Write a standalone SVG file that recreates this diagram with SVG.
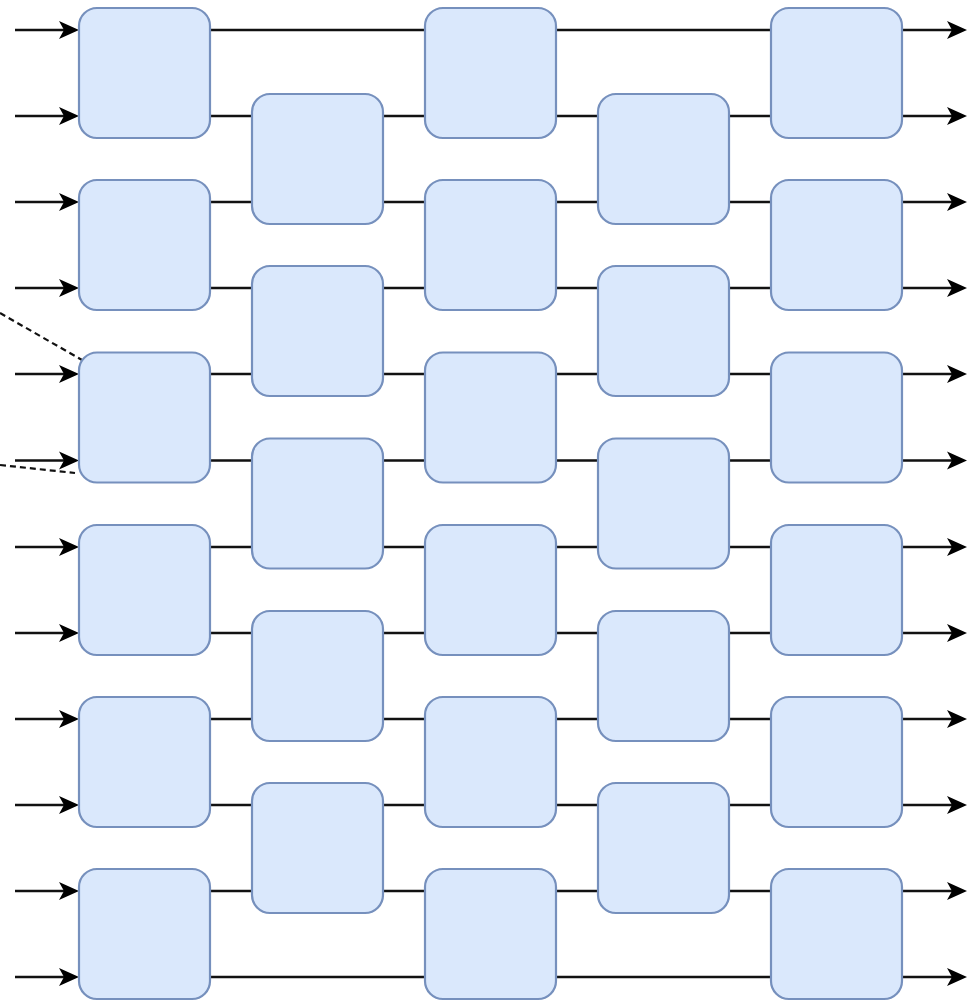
<svg xmlns="http://www.w3.org/2000/svg" width="969" height="1002" viewBox="0 0 969 1002">
<style>
.box{fill:#dae8fc;stroke:#7690bd;stroke-width:2.2}
.wire{stroke:#111;stroke-width:2.4;fill:none}
.head{fill:#000}
.dash{stroke:#111;stroke-width:2.2;fill:none;stroke-dasharray:6 4}
</style>
<defs>
<path id="ah" d="M-20,-9 L0,0 L-20,9 L-15,0 Z"/>
</defs>
<rect width="969" height="1002" fill="#fff"/>
<g id="connectors">
<path class="wire" d="M15,30H66 M15,116H66 M15,202H66 M15,288H66 M15,374H66 M15,460.5H66 M15,547H66 M15,633H66 M15,719H66 M15,805H66 M15,891H66 M15,977H66"/>
<path class="wire" d="M210,30H954 M210,116H954 M210,202H954 M210,288H954 M210,374H954 M210,460.5H954 M210,547H954 M210,633H954 M210,719H954 M210,805H954 M210,891H954 M210,977H954"/>
<g class="head">
<use href="#ah" x="79" y="30"/><use href="#ah" x="79" y="116"/><use href="#ah" x="79" y="202"/><use href="#ah" x="79" y="288"/>
<use href="#ah" x="79" y="374"/><use href="#ah" x="79" y="460.5"/><use href="#ah" x="79" y="547"/><use href="#ah" x="79" y="633"/>
<use href="#ah" x="79" y="719"/><use href="#ah" x="79" y="805"/><use href="#ah" x="79" y="891"/><use href="#ah" x="79" y="977"/>
<use href="#ah" x="967" y="30"/><use href="#ah" x="967" y="116"/><use href="#ah" x="967" y="202"/><use href="#ah" x="967" y="288"/>
<use href="#ah" x="967" y="374"/><use href="#ah" x="967" y="460.5"/><use href="#ah" x="967" y="547"/><use href="#ah" x="967" y="633"/>
<use href="#ah" x="967" y="719"/><use href="#ah" x="967" y="805"/><use href="#ah" x="967" y="891"/><use href="#ah" x="967" y="977"/>
</g>
<path class="dash" d="M0,313 L82,360"/>
<path class="dash" d="M0,465 L75,473"/>
</g>
<g id="c1r1"><rect class="box" x="79" y="8" width="131" height="130" rx="18"/></g>
<g id="c1r2"><rect class="box" x="79" y="180" width="131" height="130" rx="18"/></g>
<g id="c1r3"><rect class="box" x="79" y="352.5" width="131" height="130" rx="18"/></g>
<g id="c1r4"><rect class="box" x="79" y="525" width="131" height="130" rx="18"/></g>
<g id="c1r5"><rect class="box" x="79" y="697" width="131" height="130" rx="18"/></g>
<g id="c1r6"><rect class="box" x="79" y="869" width="131" height="130" rx="18"/></g>
<g id="c2r1"><rect class="box" x="252" y="94" width="131" height="130" rx="18"/></g>
<g id="c2r2"><rect class="box" x="252" y="266" width="131" height="130" rx="18"/></g>
<g id="c2r3"><rect class="box" x="252" y="438.5" width="131" height="130" rx="18"/></g>
<g id="c2r4"><rect class="box" x="252" y="611" width="131" height="130" rx="18"/></g>
<g id="c2r5"><rect class="box" x="252" y="783" width="131" height="130" rx="18"/></g>
<g id="c3r1"><rect class="box" x="425" y="8" width="131" height="130" rx="18"/></g>
<g id="c3r2"><rect class="box" x="425" y="180" width="131" height="130" rx="18"/></g>
<g id="c3r3"><rect class="box" x="425" y="352.5" width="131" height="130" rx="18"/></g>
<g id="c3r4"><rect class="box" x="425" y="525" width="131" height="130" rx="18"/></g>
<g id="c3r5"><rect class="box" x="425" y="697" width="131" height="130" rx="18"/></g>
<g id="c3r6"><rect class="box" x="425" y="869" width="131" height="130" rx="18"/></g>
<g id="c4r1"><rect class="box" x="598" y="94" width="131" height="130" rx="18"/></g>
<g id="c4r2"><rect class="box" x="598" y="266" width="131" height="130" rx="18"/></g>
<g id="c4r3"><rect class="box" x="598" y="438.5" width="131" height="130" rx="18"/></g>
<g id="c4r4"><rect class="box" x="598" y="611" width="131" height="130" rx="18"/></g>
<g id="c4r5"><rect class="box" x="598" y="783" width="131" height="130" rx="18"/></g>
<g id="c5r1"><rect class="box" x="771" y="8" width="131" height="130" rx="18"/></g>
<g id="c5r2"><rect class="box" x="771" y="180" width="131" height="130" rx="18"/></g>
<g id="c5r3"><rect class="box" x="771" y="352.5" width="131" height="130" rx="18"/></g>
<g id="c5r4"><rect class="box" x="771" y="525" width="131" height="130" rx="18"/></g>
<g id="c5r5"><rect class="box" x="771" y="697" width="131" height="130" rx="18"/></g>
<g id="c5r6"><rect class="box" x="771" y="869" width="131" height="130" rx="18"/></g>
</svg>
